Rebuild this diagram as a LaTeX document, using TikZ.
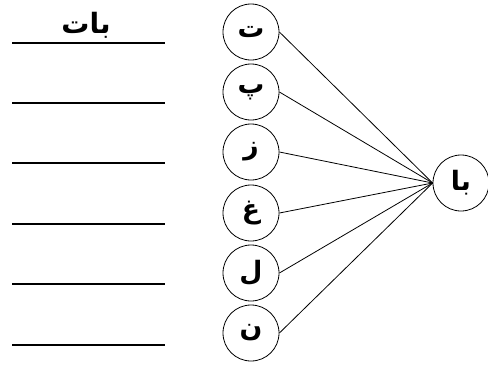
\documentclass[tikz,border=0pt]{standalone}
\usepackage{fontspec}
\newfontfamily\arabicfont[Script=Arabic]{DejaVu Sans}
\TeXXeTstate=1

\begin{document}
\begin{tikzpicture}[x=0.75pt, y=-0.75pt,
        letter/.style={draw, semithick, circle, minimum size=42pt, inner sep=0pt, font=\arabicfont\bfseries\fontsize{20}{24}\selectfont}]
        \useasboundingbox (0, 0) rectangle (488, 365);

        \foreach \y in {43, 103, 163, 224, 284, 345}
            \draw[thick] (12, \y) -- (165, \y);
        \node[font=\arabicfont\bfseries\fontsize{21}{24}\selectfont] (word) at (86, 25) {\beginR بات\endR};

        \node[letter] (t) at (251, 32) {\beginR ت\endR};
        \node[letter] (p) at (251, 92) {\beginR پ\endR};
        \node[letter] (z) at (251, 152) {\beginR ز\endR};
        \node[letter] (gh) at (251, 213) {\beginR غ\endR};
        \node[letter] (l) at (251, 273) {\beginR ل\endR};
        \node[letter] (n) at (251, 333) {\beginR ن\endR};
        \node[letter] (ba) at (461, 183) {\beginR با\endR};

        \foreach \c in {t, p, z, gh, l, n}
            \draw[semithick] (\c.east) -- (ba.west);
    \end{tikzpicture}
\end{document}
